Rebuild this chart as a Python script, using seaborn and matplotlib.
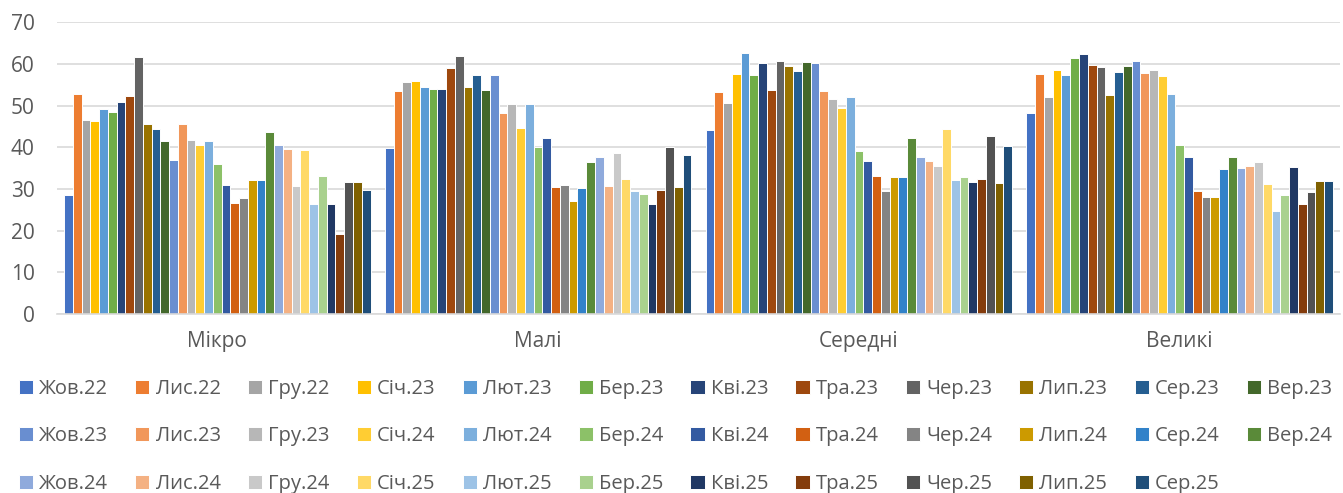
import seaborn as sns
import matplotlib.pyplot as plt
import pandas as pd

categories = ['Мікро', 'Малі', 'Середні', 'Великі']

periods = ['Жов.22', 'Лис.22', 'Гру.22', 'Січ.23', 'Лют.23', 'Бер.23', 'Кві.23', 'Тра.23',
           'Чер.23', 'Лип.23', 'Сер.23', 'Вер.23', 'Жов.23', 'Лис.23', 'Гру.23', 'Січ.24',
           'Лют.24', 'Бер.24', 'Кві.24', 'Тра.24', 'Чер.24', 'Лип.24', 'Сер.24', 'Вер.24',
           'Жов.24', 'Лис.24', 'Гру.24', 'Січ.25', 'Лют.25', 'Бер.25', 'Кві.25', 'Тра.25',
           'Чер.25', 'Лип.25', 'Сер.25']

micro = [28.5, 52.8, 46.5, 46.2, 49.1, 48.5, 50.9, 52.4, 61.7, 45.6, 44.3, 41.4,
         37.0, 45.6, 41.7, 40.6, 41.6, 36.1, 31.0, 26.6, 27.9, 32.2, 32.2, 43.6,
         40.6, 39.6, 30.6, 39.3, 26.5, 33.2, 26.5, 19.2, 31.7, 31.7, 29.8]
small = [39.8, 53.5, 55.7, 55.9, 54.4, 54.0, 53.9, 59.0, 61.9, 54.4, 57.4, 53.7,
         57.3, 48.2, 50.3, 44.7, 50.3, 40.0, 42.3, 30.5, 31.0, 27.2, 30.3, 36.4,
         37.6, 30.6, 38.6, 32.3, 29.4, 28.8, 26.4, 29.8, 40.1, 30.4, 38.2]
medium = [44.1, 53.2, 50.5, 57.6, 62.7, 57.3, 60.3, 53.7, 60.6, 59.4, 58.3, 60.5,
          60.3, 53.4, 51.5, 49.4, 52.1, 39.0, 36.8, 33.1, 29.5, 32.9, 32.9, 42.3,
          37.7, 36.6, 35.6, 44.4, 32.2, 32.8, 31.7, 32.4, 42.7, 31.5, 40.3]
large = [48.2, 57.6, 52.0, 58.6, 57.3, 61.3, 62.4, 59.8, 59.2, 52.5, 58.0, 59.5,
         60.7, 57.8, 58.5, 57.2, 52.8, 40.5, 37.6, 29.5, 28.1, 28.1, 34.8, 37.7,
         35.1, 35.5, 36.5, 31.1, 24.6, 28.5, 35.3, 26.5, 29.3, 31.8, 32.0]

colors = ['#4472C4', '#ED7D31', '#A5A5A5', '#FFC000', '#5B9BD5', '#70AD47',
          '#264478', '#9E480E', '#636363', '#997300', '#255E91', '#43682B',
          '#698ED0', '#F1975A', '#B7B7B7', '#FFCD33', '#7CAFDD', '#8CC168',
          '#335AA1', '#D26012', '#848484', '#CC9A00', '#3282C9', '#5A8A39',
          '#8FAADC', '#F4B183', '#C9C9C9', '#FFD966', '#9DC3E6', '#A9D18E',
          '#203864', '#843C0C', '#525252', '#7F6000', '#1F4E79']

rows = []
for cat, vals in zip(categories, [micro, small, medium, large]):
    for p, v in zip(periods, vals):
        rows.append({'cat': cat, 'period': p, 'value': v})
df = pd.DataFrame(rows)

sns.set_style('white')
plt.rcParams['font.family'] = ['Open Sans', 'DejaVu Sans']

fig = plt.figure(figsize=(13.43, 4.93), dpi=100)
ax = fig.add_axes([0.0424, 0.363, 0.9554, 0.592])

sns.barplot(data=df, x='cat', y='value', hue='period', palette=colors, saturation=1,
            width=0.955, edgecolor='white', linewidth=0.7, ax=ax)

ax.set_xlim(-0.5, 3.5)
ax.set_ylim(0, 70)
ax.set_yticks(range(0, 71, 10))
ax.grid(axis='y', color='#D9D9D9', linewidth=1.2)
ax.set_axisbelow(True)
for s in ['left', 'right', 'top']:
    ax.spines[s].set_visible(False)
ax.spines['bottom'].set_color('#D9D9D9')
ax.spines['bottom'].set_linewidth(1.2)
ax.set_xlabel('')
ax.set_ylabel('')
ax.tick_params(axis='y', length=0, labelsize=15, labelcolor='#595959', pad=16)
ax.tick_params(axis='x', which='major', length=0, labelsize=15, labelcolor='#595959', pad=12)
ax.set_xticks([-0.5, 0.5, 1.5, 2.5, 3.5], minor=True)
ax.tick_params(axis='x', which='minor', length=6, color='#D9D9D9', width=1.2)

# legend row-major: reorder for column-major fill
handles, labels = ax.get_legend_handles_labels()
ax.get_legend().remove()
order = []
for j in range(12):
    for r in range(3):
        i = r * 12 + j
        if i < len(handles):
            order.append(i)
fig.legend([handles[i] for i in order], [labels[i] for i in order],
           loc='upper center', bbox_to_anchor=(0.503, 0.252), ncol=12, frameon=False,
           fontsize=14.5, labelcolor='#595959', handlelength=0.7, handleheight=0.7,
           handletextpad=0.3, columnspacing=1.35, labelspacing=1.37, borderpad=0)

fig.savefig('out.png', dpi=100)
